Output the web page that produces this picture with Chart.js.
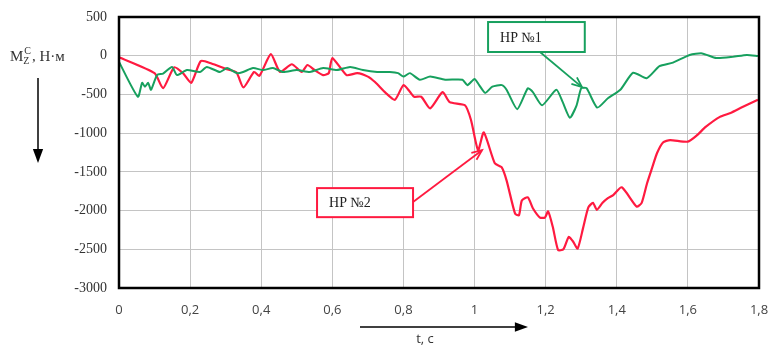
<!DOCTYPE html>
<html>
<head>
<meta charset="utf-8">
<script src="https://cdn.jsdelivr.net/npm/chart.js@4"></script>
<style>
  body { margin: 0; background: #fff; }
  #wrap { width: 771px; height: 347px; }
</style>
</head>
<body>
<div id="wrap"><canvas id="chart" width="771" height="347"></canvas></div>
<script>
// НР №2 (красная)
const redT = [0, 0.1, 0.124, 0.155, 0.18, 0.203, 0.23, 0.26, 0.30, 0.33, 0.35, 0.38, 0.395, 0.427, 0.453, 0.486, 0.514, 0.53, 0.55, 0.574, 0.59, 0.60, 0.64, 0.67, 0.70, 0.72, 0.75, 0.776, 0.80, 0.818, 0.83, 0.85, 0.875, 0.91, 0.93, 0.973, 0.99, 1.01, 1.026, 1.057, 1.076, 1.09, 1.114, 1.125, 1.133, 1.15, 1.164, 1.184, 1.198, 1.207, 1.22, 1.235, 1.25, 1.265, 1.277, 1.29, 1.305, 1.32, 1.333, 1.344, 1.36, 1.375, 1.39, 1.414, 1.456, 1.47, 1.485, 1.50, 1.513, 1.53, 1.55, 1.60, 1.625, 1.65, 1.69, 1.72, 1.755, 1.797];
const redM = [-20, -225, -420, -150, -225, -350, -70, -100, -170, -215, -410, -210, -260, 20, -210, -110, -210, -120, -185, -250, -225, -30, -250, -225, -270, -340, -480, -570, -380, -465, -530, -530, -680, -470, -600, -640, -830, -1220, -990, -1390, -1440, -1610, -2040, -2060, -1870, -1830, -1970, -2090, -2090, -2010, -2210, -2510, -2500, -2340, -2400, -2490, -2230, -1960, -1900, -1990, -1900, -1840, -1800, -1700, -1950, -1900, -1650, -1440, -1260, -1120, -1090, -1110, -1030, -920, -790, -740, -660, -570];

// НР №1 (зелёная)
const greenT = [0, 0.053, 0.065, 0.073, 0.082, 0.09, 0.107, 0.124, 0.149, 0.163, 0.191, 0.228, 0.247, 0.284, 0.304, 0.332, 0.349, 0.377, 0.405, 0.433, 0.461, 0.50, 0.537, 0.574, 0.613, 0.65, 0.686, 0.726, 0.762, 0.785, 0.80, 0.818, 0.846, 0.875, 0.917, 0.966, 0.98, 1.0, 1.013, 1.03, 1.05, 1.077, 1.09, 1.12, 1.15, 1.164, 1.19, 1.23, 1.248, 1.268, 1.287, 1.30, 1.315, 1.345, 1.375, 1.41, 1.446, 1.484, 1.52, 1.558, 1.605, 1.64, 1.68, 1.726, 1.766, 1.797];
const greenM = [-80, -530, -350, -400, -350, -440, -250, -230, -145, -250, -185, -210, -145, -210, -160, -225, -210, -160, -185, -160, -210, -185, -210, -160, -185, -145, -185, -210, -210, -225, -270, -225, -310, -270, -310, -310, -380, -300, -380, -480, -400, -380, -440, -690, -420, -470, -640, -440, -600, -800, -640, -420, -420, -670, -550, -440, -220, -290, -135, -90, 10, 30, -30, -15, 10, -5];

const xTicks = [0, 0.2, 0.4, 0.6, 0.8, 1, 1.2, 1.4, 1.6, 1.8];
const yTicks = [500, 0, -500, -1000, -1500, -2000, -2500, -3000];

const RED = '#ff1a40';
const GREEN = '#17a05e';
const SERIF = '"Liberation Serif", "DejaVu Serif", serif';

function pts(ts, vs) {
  return ts.map((t, i) => ({ x: t, y: vs[i] }));
}

function arrowHead(ctx, x1, y1, x2, y2, len, filled) {
  const a = Math.atan2(y2 - y1, x2 - x1);
  const w = filled ? 0.35 : 0.4;
  ctx.beginPath();
  ctx.moveTo(x2 - len * Math.cos(a - w), y2 - len * Math.sin(a - w));
  ctx.lineTo(x2, y2);
  ctx.lineTo(x2 - len * Math.cos(a + w), y2 - len * Math.sin(a + w));
  if (filled) { ctx.closePath(); ctx.fill(); } else { ctx.stroke(); }
}

// рамка, подписи НР и стрелки осей
const extras = {
  id: 'extras',
  afterDatasetsDraw(chart) {
    const { ctx, chartArea: a, scales: { x, y } } = chart;
    ctx.save();
    ctx.strokeStyle = '#000';
    ctx.lineWidth = 2.5;
    ctx.strokeRect(a.left, a.top, a.right - a.left, a.bottom - a.top);

    const boxes = [
      { label: 'НР №1', color: GREEN, x0: 1.038, x1: 1.31, y0: 435, y1: 48, from: [1.184, 48], to: [1.302, -405] },
      { label: 'НР №2', color: RED, x0: 0.557, x1: 0.827, y0: -1710, y1: -2085, from: [0.827, -1890], to: [1.021, -1220] }
    ];
    boxes.forEach(b => {
      const l = x.getPixelForValue(b.x0), r = x.getPixelForValue(b.x1);
      const t = y.getPixelForValue(b.y0), bt = y.getPixelForValue(b.y1);
      ctx.fillStyle = '#fff';
      ctx.fillRect(l, t, r - l, bt - t);
      ctx.strokeStyle = b.color;
      ctx.lineWidth = 2;
      ctx.strokeRect(l, t, r - l, bt - t);
      ctx.fillStyle = '#222';
      ctx.font = '14px ' + SERIF;
      ctx.textBaseline = 'middle';
      ctx.textAlign = 'left';
      ctx.fillText(b.label, l + 12, (t + bt) / 2 + 1);
      const fx = x.getPixelForValue(b.from[0]), fy = y.getPixelForValue(b.from[1]);
      const tx = x.getPixelForValue(b.to[0]), ty = y.getPixelForValue(b.to[1]);
      ctx.lineWidth = 1.8;
      ctx.beginPath();
      ctx.moveTo(fx, fy);
      ctx.lineTo(tx, ty);
      ctx.stroke();
      arrowHead(ctx, fx, fy, tx, ty, 11, false);
    });

    // подпись оси Y
    ctx.fillStyle = '#333';
    ctx.textBaseline = 'alphabetic';
    ctx.textAlign = 'left';
    ctx.font = '15px ' + SERIF;
    let px = 10;
    const base = 61;
    ctx.fillText('M', px, base); px += ctx.measureText('M').width;
    ctx.font = '10px ' + SERIF;
    ctx.fillText('Z', px, base + 3);
    ctx.fillText('C', px + 1, base - 7); px += ctx.measureText('C').width + 2;
    ctx.font = '15px ' + SERIF;
    ctx.fillText(', Н·м', px, base);

    ctx.strokeStyle = '#000';
    ctx.fillStyle = '#000';
    ctx.lineWidth = 1.5;
    ctx.beginPath();
    ctx.moveTo(38, 78);
    ctx.lineTo(38, 152);
    ctx.stroke();
    arrowHead(ctx, 38, 78, 38, 163, 15, true);

    // подпись оси X
    ctx.beginPath();
    ctx.moveTo(360, 327);
    ctx.lineTo(518, 327);
    ctx.stroke();
    arrowHead(ctx, 360, 327, 528, 327, 14, true);
    ctx.fillStyle = '#333';
    ctx.font = '13px "Open Sans", sans-serif';
    ctx.textAlign = 'center';
    ctx.fillText('t, c', 425, 343);
    ctx.restore();
  }
};

new Chart(document.getElementById('chart'), {
  type: 'line',
  data: {
    datasets: [
      { label: 'НР №1', data: pts(greenT, greenM), borderColor: GREEN, borderWidth: 2, pointRadius: 0, tension: 0.2 },
      { label: 'НР №2', data: pts(redT, redM), borderColor: RED, borderWidth: 2.2, pointRadius: 0, tension: 0.2 }
    ]
  },
  options: {
    responsive: false,
    animation: false,
    layout: { padding: { left: 0, right: 12, top: 17, bottom: 0 } },
    plugins: { legend: { display: false }, tooltip: { enabled: false } },
    scales: {
      x: {
        type: 'linear',
        min: 0,
        max: 1.8,
        afterBuildTicks: s => { s.ticks = xTicks.map(v => ({ value: v })); },
        afterFit: s => { s.height = 59; s.paddingLeft = 0; s.paddingRight = 0; },
        grid: { color: '#c4c4c4', lineWidth: 1, drawTicks: false },
        border: { display: false },
        ticks: {
          padding: 14,
          color: '#444',
          font: { family: 'Open Sans', size: 13 },
          callback: v => String(v).replace('.', ',')
        }
      },
      y: {
        min: -3000,
        max: 500,
        afterBuildTicks: s => { s.ticks = yTicks.map(v => ({ value: v })); },
        afterFit: s => { s.width = 119; s.paddingTop = 0; s.paddingBottom = 0; },
        grid: { color: '#c4c4c4', lineWidth: 1, drawTicks: false },
        border: { display: false },
        ticks: {
          padding: 12,
          color: '#333',
          font: { family: SERIF, size: 14 },
          callback: v => String(v)
        }
      }
    }
  },
  plugins: [extras]
});
</script>
</body>
</html>
